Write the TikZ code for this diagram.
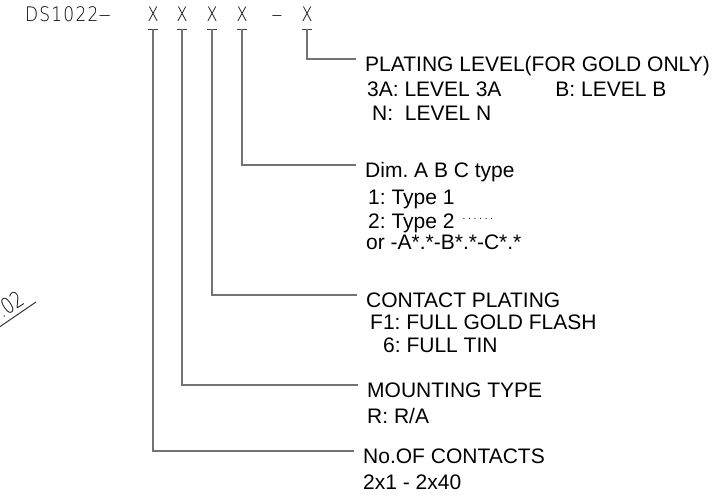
\documentclass[tikz,border=0pt]{standalone}
\usepackage{fontspec}
\newfontfamily\codefont{DejaVuSans-ExtraLight.ttf}[FakeStretch=0.8]
\newfontfamily\dsfont{DejaVuSans-ExtraLight.ttf}[FakeStretch=0.85, LetterSpace=6]
\newfontfamily\lblfont{Liberation Sans}
\usetikzlibrary{calc, positioning}

\tikzset{
  leader/.style={draw=black!55, line width=1.6pt},
  teebar/.style={draw=black!75, line width=1pt},
  partno/.style={font=\codefont\fontsize{20}{20}\selectfont, inner sep=0pt, anchor=base},
  lbl/.style={font=\lblfont\fontsize{21}{22}\selectfont, inner sep=0pt, anchor=north west,
    text height=15pt, text depth=4pt},
}

\begin{document}
\frenchspacing
\begin{tikzpicture}[x=1pt, y=-1pt]
\useasboundingbox (0,0) rectangle (719,501);

% Part number
\node[partno, anchor=base west, font=\dsfont\fontsize{20}{20}\selectfont] (ds) at (25,21)
  {DS1022\scalebox{1.5}[1]{–}};
\node[partno] (c1) at (153,21) {X};
\node[partno] (c2) at (182,21) {X};
\node[partno] (c3) at (212,21) {X};
\node[partno] (c4) at (242,21) {X};
\node[partno] (dash) at (277,21) {\scalebox{1.4}[1]{–}};
\node[partno] (c5) at (307,21) {X};

% Tee marks under each X
\foreach \i in {1,...,5} {
  \coordinate (t\i) at (c\i.base |- 0,29);
  \draw[teebar] (t\i) ++(-5,0) -- ++(10,0);
}

% Plating level
\node[lbl] (plating) at (365,56) {PLATING LEVEL(FOR GOLD ONLY)};
\node[lbl] (pl1) at (367,81) {3A: LEVEL 3A\hspace{54pt}B: LEVEL B};
\node[lbl] (pl2) at (372,105) {N:\ \ LEVEL N};

% Dim. A B C type
\node[lbl] (dim) at (365,162) {Dim. A B C type};
\node[lbl] (dim1) at (368,189) {1: Type 1};
\node[lbl] (dim2) at (368,213) {2: Type 2\hspace{8pt}\raisebox{9pt}{\fontsize{10}{10}\selectfont. . . . . .}};
\node[lbl] (dim3) at (366,234) {or -A*.*-B*.*-C*.*};

% Contact plating
\node[lbl] (plate) at (366,292) {CONTACT PLATING};
\node[lbl] (plate1) at (370,314) {F1: FULL GOLD FLASH};
\node[lbl] (plate2) at (383,337) {6: FULL TIN};

% Mounting type
\node[lbl] (mount) at (367,382) {MOUNTING TYPE};
\node[lbl] (mount1) at (367,408) {R: R/A};

% Number of contacts
\node[lbl] (noc) at (363,448) {No.OF CONTACTS};
\node[lbl] (noc1) at (363,474) {2x1 - 2x40};

% Leaders
\draw[leader] (t5) |- ([shift={(-9pt,-3pt)}]plating.north west);
\draw[leader] (t4) |- ([shift={(-9pt,-3pt)}]dim.north west);
\draw[leader] (t3) |- ([shift={(-9pt,-3pt)}]plate.north west);
\draw[leader] (t2) |- ([shift={(-9pt,-3pt)}]mount.north west);
\draw[leader] (t1) |- ([shift={(-9pt,-3pt)}]noc.north west);

% Cut-off tolerance at the left edge
\node[partno, rotate=33, anchor=base east, font=\codefont\fontsize{22}{22}\selectfont] (tol) at (26,303) {.02};
\draw[black!80, line width=1pt] (-2,328) -- (36,302);
\end{tikzpicture}
\end{document}
